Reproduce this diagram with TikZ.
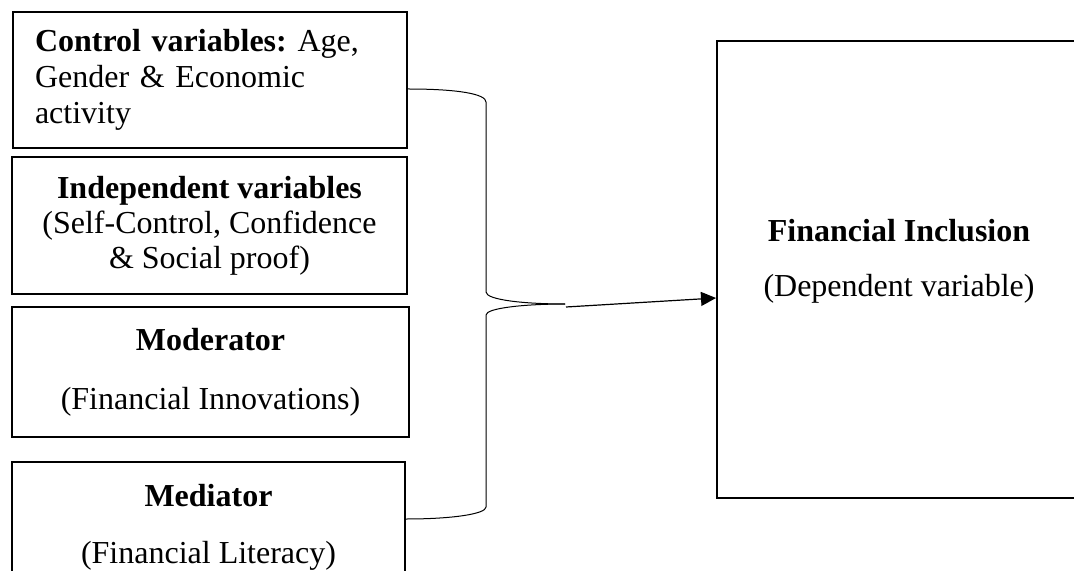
\documentclass[tikz,border=0pt]{standalone}
\usepackage{fontspec}
\setmainfont{Liberation Serif}
\usetikzlibrary{arrows.meta,calc}
\begin{document}
\begin{tikzpicture}[x=0.5pt,y=-0.5pt,
  txt/.style={font=\fontsize{16pt}{17.5pt}\selectfont\frenchspacing},
  varbox/.style={draw, line width=1.2pt, inner sep=0pt, txt, align=center},
  depbox/.style={draw, line width=1pt, inner sep=0pt},
  link/.style={line width=0.5pt},
  flow/.style={line width=0.6pt, -{Triangle[length=7.5pt,width=7pt]}}]
\useasboundingbox (0,0) rectangle (1074,571);
\clip (0,0) rectangle (1074,571);

% variable boxes on the left
\node[varbox, align=left, text width=175pt, inner xsep=11pt, minimum height=68pt,
  font=\fontsize{16pt}{18pt}\selectfont\frenchspacing]
  (ctrl) at (210,80) {\textbf{Control variables:} Age,\\ Gender \& Economic\\ activity};
\node[varbox, minimum width=197.5pt, minimum height=68.5pt]
  (indep) at (209.5,225.5) {\textbf{Independent variables}\\(Self-Control, Confidence\\\& Social proof)};
\node[varbox, minimum width=198.5pt, minimum height=65pt]
  (moder) at (210.5,372) {\textbf{Moderator}\\[12pt](Financial Innovations)};
\node[varbox, minimum width=196.5pt, minimum height=65pt]
  (medi) at (208.5,527) {\textbf{Mediator}\\[11pt](Financial Literacy)};

% dependent variable box
\node[depbox, minimum width=182pt, minimum height=228.5pt] (dep) at (899,269.5) {};
\node[txt, anchor=base] (depname) at (899,242) {\textbf{Financial Inclusion}};
\node[txt, anchor=base] (deprole) at (899,297) {(Dependent variable)};

% brace gathering the boxes
\coordinate (tip) at (565,304);
\draw[link] ($(ctrl.east)+(0,9)$) .. controls (458,89) and (486,94) .. (486,102)
  -- (486,292) .. controls (486,300) and (525,304) .. (tip);
\draw[link] (tip) .. controls (525,304) and (486,308) .. (486,315)
  -- (486,507) .. controls (486,514) and (452,519) .. ($(medi.east)+(0,-8)$);

% arrow to the dependent variable
\draw[flow] ($(tip)+(1,3)$) -- ($(dep.west)+(0,28.5)$);
\end{tikzpicture}
\end{document}
